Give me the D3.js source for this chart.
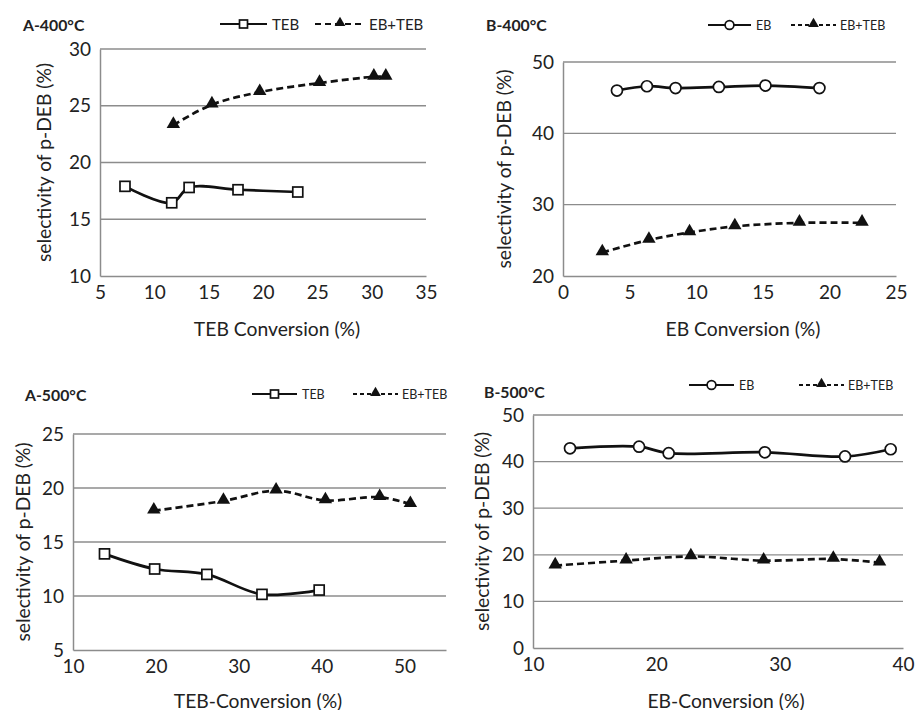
<!DOCTYPE html>
<html>
<head>
<meta charset="utf-8">
<script src="https://cdn.jsdelivr.net/npm/d3@7"></script>
<style>
  body { margin: 0; background: #fff; }
  text { font-family: Lato, "Open Sans", sans-serif; fill: #222; }
</style>
</head>
<body>
<div class="charts"></div>
<script>
//-----------------------------------------
// data
//-----------------------------------------

// A-400°C
var a400TebX = [7.3, 11.6, 13.2, 17.7, 23.2];
var a400TebY = [17.9, 16.45, 17.8, 17.6, 17.4];
var a400MixX = [11.75, 15.3, 19.7, 25.2, 30.2, 31.3];
var a400MixY = [23.3, 25.1, 26.2, 27.0, 27.55, 27.55];

// B-400°C
var b400EbX = [4.05, 6.3, 8.45, 11.7, 15.2, 19.25];
var b400EbY = [46.0, 46.6, 46.35, 46.5, 46.7, 46.35];
var b400MixX = [2.95, 6.45, 9.5, 12.9, 17.75, 22.45];
var b400MixY = [23.3, 25.05, 26.1, 26.95, 27.45, 27.45];

// A-500°C
var a500TebX = [13.8, 19.85, 26.15, 32.8, 39.7];
var a500TebY = [13.9, 12.5, 12.0, 10.15, 10.55];
var a500MixX = [19.75, 28.15, 34.5, 40.45, 47.0, 50.7];
var a500MixY = [17.9, 18.8, 19.75, 18.85, 19.15, 18.5];

// B-500°C
var b500EbX = [13.0, 18.6, 21.0, 28.8, 35.3, 39.0];
var b500EbY = [42.85, 43.2, 41.8, 42.0, 41.1, 42.65];
var b500MixX = [11.8, 17.55, 22.8, 28.7, 34.35, 38.1];
var b500MixY = [17.7, 18.75, 19.65, 18.75, 19.1, 18.3];

// tick labels
var a400XTicks = [5, 10, 15, 20, 25, 30, 35];
var a400YTicks = [10, 15, 20, 25, 30];
var b400XTicks = [0, 5, 10, 15, 20, 25];
var b400YTicks = [20, 30, 40, 50];
var a500XTicks = [10, 20, 30, 40, 50];
var a500YTicks = [5, 10, 15, 20, 25];
var b500XTicks = [10, 20, 30, 40];
var b500YTicks = [0, 10, 20, 30, 40, 50];

var yLabel = "selectivity of p-DEB (%)";

//-----------------------------------------
// functions
//-----------------------------------------

var svg = d3.select(".charts")
    .append("svg")
    .attr("width", 916)
    .attr("height", 710);

function zip(xs, ys) {
    return xs.map(function (x, i) { return { x: x, y: ys[i] }; });
}

function drawPanel(p) {
    var xScale = d3.scaleLinear().domain(p.xDomain).range([p.left, p.right]);
    var yScale = d3.scaleLinear().domain(p.yDomain).range([p.bottom, p.top]);

    var g = svg.append("g");

    // gridlines
    g.selectAll("line.grid")
        .data(p.yTicks.slice(1))
        .enter()
        .append("line")
        .attr("x1", p.left)
        .attr("x2", p.right)
        .attr("y1", function (d) { return yScale(d); })
        .attr("y2", function (d) { return yScale(d); })
        .attr("stroke", "#8c8c8c")
        .attr("stroke-width", 1.3);

    // axes (no tick marks)
    var yAxis = d3.axisLeft(yScale).tickValues(p.yTicks).tickSize(0).tickPadding(9);
    var xAxis = d3.axisBottom(xScale).tickValues(p.xTicks).tickSize(0).tickPadding(10);

    var ya = g.append("g").attr("transform", `translate(${p.left},0)`).call(yAxis);
    var xa = g.append("g").attr("transform", `translate(0,${p.bottom})`).call(xAxis);
    [ya, xa].forEach(function (a) {
        a.select(".domain").attr("stroke", "#8c8c8c").attr("stroke-width", 1.5);
        a.selectAll("text")
            .style("font-size", "19px")
            .style("font-family", "Lato, 'Open Sans', sans-serif")
            .attr("fill", "#222");
    });

    // axis titles
    g.append("text")
        .attr("transform", `translate(${p.yLabelX},${(p.top + p.bottom) / 2}) rotate(-90)`)
        .attr("text-anchor", "middle")
        .attr("dominant-baseline", "central")
        .style("font-size", "19.3px")
        .text(yLabel);

    g.append("text")
        .attr("x", p.xLabelX)
        .attr("y", p.xLabelY)
        .attr("text-anchor", "middle")
        .attr("dominant-baseline", "central")
        .style("font-size", "19.3px")
        .text(p.xLabel);

    // panel title
    g.append("text")
        .attr("x", p.titleX)
        .attr("y", p.titleY)
        .attr("dominant-baseline", "central")
        .style("font-size", "15.8px")
        .style("font-weight", "bold")
        .text(p.title);

    // series
    var line = d3.line()
        .x(function (d) { return xScale(d.x); })
        .y(function (d) { return yScale(d.y); })
        .curve(d3.curveCatmullRom.alpha(0.5));

    var solid = zip(p.solidX, p.solidY);
    var dashed = zip(p.dashX, p.dashY);

    g.append("path")
        .datum(dashed)
        .attr("d", line)
        .attr("fill", "none")
        .attr("stroke", "#111")
        .attr("stroke-width", 2.7)
        .attr("stroke-dasharray", "7,4");

    g.append("path")
        .datum(solid)
        .attr("d", line)
        .attr("fill", "none")
        .attr("stroke", "#111")
        .attr("stroke-width", 2.7);

    var tri = d3.symbol().type(d3.symbolTriangle).size(78);
    g.selectAll("path.tri")
        .data(dashed)
        .enter()
        .append("path")
        .attr("class", "tri")
        .attr("d", tri)
        .attr("transform", function (d) { return `translate(${xScale(d.x)},${yScale(d.y) - 1})`; })
        .attr("fill", "#111");

    var marker = g.selectAll("g.mk")
        .data(solid)
        .enter()
        .append("g")
        .attr("class", "mk")
        .attr("transform", function (d) { return `translate(${xScale(d.x)},${yScale(d.y)})`; });
    drawMarker(marker, p.solidShape);

    // legend
    var lg = g.append("g");
    lg.append("line")
        .attr("x1", p.leg1[0]).attr("x2", p.leg1[1])
        .attr("y1", p.legY).attr("y2", p.legY)
        .attr("stroke", "#111").attr("stroke-width", 2.2);
    var lm = lg.append("g").attr("transform", `translate(${(p.leg1[0] + p.leg1[1]) / 2},${p.legY})`);
    drawMarker(lm, p.solidShape, 0.8);
    lg.append("text")
        .attr("x", p.leg1[1] + 5).attr("y", p.legY)
        .attr("dominant-baseline", "central")
        .style("font-size", p.legFont + "px")
        .text(p.solidName);

    lg.append("line")
        .attr("x1", p.leg2[0]).attr("x2", p.leg2[1])
        .attr("y1", p.legY).attr("y2", p.legY)
        .attr("stroke", "#111").attr("stroke-width", 2.2)
        .attr("stroke-dasharray", p.legDash);
    lg.append("path")
        .attr("d", d3.symbol().type(d3.symbolTriangle).size(50))
        .attr("transform", `translate(${(p.leg2[0] + p.leg2[1]) / 2},${p.legY - 1})`)
        .attr("fill", "#111");
    lg.append("text")
        .attr("x", p.leg2[1] + 4).attr("y", p.legY)
        .attr("dominant-baseline", "central")
        .style("font-size", p.legFont + "px")
        .text("EB+TEB");
}

function drawMarker(sel, shape, k) {
    k = k || 1;
    if (shape === "square") {
        sel.append("rect")
            .attr("x", -5 * k).attr("y", -5 * k)
            .attr("width", 10 * k).attr("height", 10 * k)
            .attr("fill", "#fff").attr("stroke", "#111").attr("stroke-width", 1.7);
    } else {
        sel.append("circle")
            .attr("r", 5.5 * k)
            .attr("fill", "#fff").attr("stroke", "#111").attr("stroke-width", 1.7);
    }
}

//-----------------------------------------
// render the four panels
//-----------------------------------------

drawPanel({
    title: "A-400°C", titleX: 23, titleY: 24,
    left: 100, right: 426, top: 49, bottom: 276,
    xDomain: [5, 35], yDomain: [10, 30], xTicks: a400XTicks, yTicks: a400YTicks,
    xLabel: "TEB Conversion (%)", xLabelX: 277, xLabelY: 328, yLabelX: 43,
    solidX: a400TebX, solidY: a400TebY, solidShape: "square", solidName: "TEB",
    dashX: a400MixX, dashY: a400MixY,
    legY: 24, leg1: [220, 267], leg2: [315, 365], legDash: "6,4", legFont: 15
});

drawPanel({
    title: "B-400°C", titleX: 486, titleY: 24,
    left: 563, right: 896, top: 62, bottom: 276,
    xDomain: [0, 25], yDomain: [20, 50], xTicks: b400XTicks, yTicks: b400YTicks,
    xLabel: "EB Conversion (%)", xLabelX: 743, xLabelY: 328, yLabelX: 503,
    solidX: b400EbX, solidY: b400EbY, solidShape: "circle", solidName: "EB",
    dashX: b400MixX, dashY: b400MixY,
    legY: 25, leg1: [708, 751], leg2: [791, 836], legDash: "4,3", legFont: 12.5
});

drawPanel({
    title: "A-500°C", titleX: 25, titleY: 394,
    left: 73, right: 446, top: 434, bottom: 650,
    xDomain: [10, 55], yDomain: [5, 25], xTicks: a500XTicks, yTicks: a500YTicks,
    xLabel: "TEB-Conversion (%)", xLabelX: 258, xLabelY: 700, yLabelX: 22,
    solidX: a500TebX, solidY: a500TebY, solidShape: "square", solidName: "TEB",
    dashX: a500MixX, dashY: a500MixY,
    legY: 394, leg1: [252, 297], leg2: [353, 398], legDash: "4,3", legFont: 12.5
});

drawPanel({
    title: "B-500°C", titleX: 484, titleY: 391,
    left: 533, right: 903, top: 415, bottom: 648,
    xDomain: [10, 40], yDomain: [0, 50], xTicks: b500XTicks, yTicks: b500YTicks,
    xLabel: "EB-Conversion (%)", xLabelX: 726, xLabelY: 700, yLabelX: 481,
    solidX: b500EbX, solidY: b500EbY, solidShape: "circle", solidName: "EB",
    dashX: b500MixX, dashY: b500MixY,
    legY: 385, leg1: [689, 734], leg2: [799, 844], legDash: "4,3", legFont: 12.5
});
</script>
</body>
</html>
